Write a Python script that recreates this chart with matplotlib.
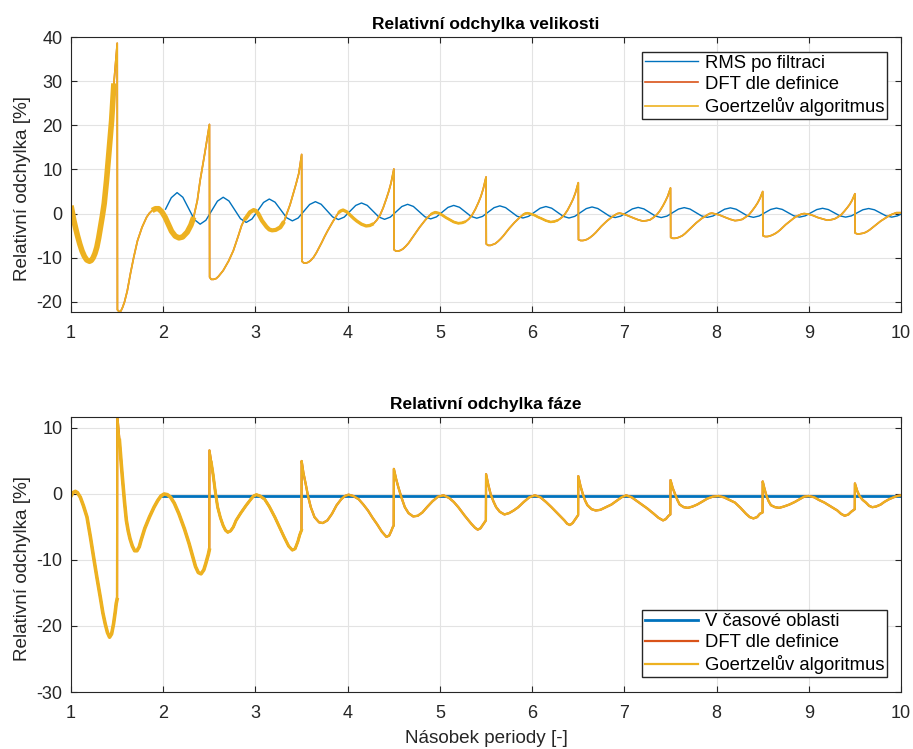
import numpy as np
import matplotlib
matplotlib.use('Agg')
import matplotlib.pyplot as plt

plt.rcParams['font.family'] = ['Liberation Sans', 'DejaVu Sans']
plt.rcParams['axes.unicode_minus'] = False

# barvy jako v MATLABu
c_blue = '#0072BD'
c_red = '#D95319'
c_yel = '#EDB120'

# ---- Relativni odchylka velikosti ----
# RMS po filtraci (vzorky po 1/16 periody od 2.025)
rms_x = np.arange(2.025, 10.03, 0.0625)
rms_y = [1.0, 3.6, 4.75,
         3.70, 1.18, -1.35, -2.4, -1.51, 0.65, 2.81, 3.7,
         2.86, 0.85, -1.16, -2.0, -1.22, 0.65, 2.52, 3.3,
         2.58, 0.83, -0.93, -1.65, -1.01, 0.53, 2.06, 2.7,
         2.11, 0.68, -0.76, -1.35, -0.80, 0.53, 1.85, 2.4,
         1.86, 0.55, -0.76, -1.3, -0.80, 0.40, 1.60, 2.1,
         1.62, 0.45, -0.72, -1.2, -0.75, 0.33, 1.40, 1.85,
         1.43, 0.40, -0.63, -1.05, -0.64, 0.35, 1.34, 1.75,
         1.35, 0.38, -0.60, -1.0, -0.62, 0.30, 1.22, 1.6,
         1.22, 0.30, -0.62, -1.0, -0.63, 0.25, 1.13, 1.5,
         1.15, 0.30, -0.55, -0.9, -0.56, 0.25, 1.06, 1.4,
         1.06, 0.25, -0.56, -0.9, -0.57, 0.23, 1.02, 1.35,
         1.03, 0.25, -0.53, -0.85, -0.54, 0.23, 0.99, 1.3,
         0.99, 0.23, -0.54, -0.85, -0.54, 0.20, 0.94, 1.25,
         0.95, 0.23, -0.50, -0.8, -0.51, 0.20, 0.91, 1.2,
         0.91, 0.20, -0.51, -0.8, -0.52, 0.18, 0.87, 1.15,
         0.86, 0.18, -0.51, -0.8, -0.52, 0.15]

# Goertzel / DFT - velikost, body (x, y) po periodach
vel_c0 = [(1.0, 1.8), (1.015, 0.2), (1.03, -1.5), (1.05, -3.3), (1.07, -5.0), (1.095, -6.9),
          (1.12, -8.5), (1.145, -9.7), (1.17, -10.5), (1.2, -10.8), (1.22, -10.6), (1.24, -10.0),
          (1.26, -9.0), (1.28, -7.6), (1.30, -5.5), (1.32, -3.0), (1.34, -0.5), (1.36, 2.3),
          (1.385, 7.5), (1.41, 13.6), (1.44, 21.0), (1.465, 29.5), (1.485, 34.5), (1.501, 38.6)]
vel_c1 = [(1.503, -21.8), (1.52, -22.2), (1.54, -22.1), (1.56, -21.2), (1.58, -20.0), (1.61, -17.5),
          (1.645, -13.5), (1.68, -9.9), (1.72, -6.2), (1.77, -3.1), (1.82, -0.8), (1.85, 0.1),
          (1.88, 0.7), (1.915, 1.1), (1.95, 1.1), (1.985, 0.4), (2.02, -0.8), (2.055, -2.4),
          (2.09, -4.0), (2.13, -5.1), (2.17, -5.5), (2.21, -5.3), (2.26, -4.2), (2.30, -2.6),
          (2.33, -0.8), (2.37, 3.0), (2.40, 7.5), (2.425, 10.5), (2.45, 13.6), (2.475, 16.8),
          (2.501, 20.2)]
vel_c2 = [(2.503, -14.4), (2.52, -14.9), (2.545, -14.9), (2.575, -14.7), (2.6, -14.2), (2.65, -12.9),
          (2.71, -10.7), (2.76, -8.4), (2.81, -5.3), (2.85, -2.7), (2.88, -1.4), (2.90, -0.9),
          (2.94, 0.3), (2.98, 0.8), (3.005, 0.6), (3.03, 0.0), (3.07, -1.6), (3.12, -3.0),
          (3.15, -3.6), (3.18, -3.8), (3.22, -3.7), (3.27, -3.1), (3.31, -1.8), (3.34, 0.0),
          (3.375, 2.0), (3.41, 4.5), (3.44, 6.7), (3.47, 9.1), (3.501, 13.4)]
# periody 3..8: poloha vzorku vuci celemu cislu periody
vel_off = [0.503, 0.525, 0.55, 0.575, 0.6, 0.63, 0.66, 0.69, 0.72, 0.75, 0.78, 0.81, 0.84, 0.87,
           0.9, 0.925, 0.95, 0.99, 1.03, 1.065, 1.1, 1.15, 1.2, 1.24, 1.28, 1.315, 1.35, 1.385,
           1.42, 1.445, 1.47, 1.501]
vel_per = [3, 4, 5, 6, 7, 8]
vel_yp = [
    [-10.8, -11.2, -11.2, -11.0, -10.6, -9.9, -8.9, -7.7, -6.5, -5.2, -4.0, -2.9, -1.8, -0.8, 0.2, 0.6,
     0.8, 0.4, -0.4, -1.1, -1.7, -2.4, -2.8, -2.7, -2.3, -1.5, -0.4, 1.3, 3.4, 5.0, 6.9, 10.1],
    [-8.2, -8.5, -8.5, -8.3, -8.0, -7.4, -6.7, -5.8, -4.9, -4.0, -3.1, -2.3, -1.5, -0.8, -0.2, 0.1,
     0.3, 0.1, -0.4, -0.9, -1.3, -1.9, -2.2, -2.1, -1.8, -1.2, -0.3, 1.0, 2.6, 3.9, 5.6, 8.3],
    [-6.9, -7.2, -7.2, -7.0, -6.8, -6.3, -5.7, -5.0, -4.2, -3.4, -2.7, -2.0, -1.4, -0.8, -0.3, 0.0,
     0.1, -0.1, -0.4, -0.8, -1.1, -1.6, -1.9, -1.8, -1.5, -1.0, -0.3, 0.8, 2.2, 3.3, 4.7, 7.0],
    [-5.9, -6.1, -6.1, -6.0, -5.8, -5.4, -4.9, -4.3, -3.6, -2.9, -2.3, -1.7, -1.2, -0.7, -0.3, 0.0,
     0.1, -0.1, -0.4, -0.7, -1.0, -1.4, -1.7, -1.6, -1.4, -0.9, -0.3, 0.6, 1.8, 2.8, 3.9, 5.8],
    [-5.4, -5.6, -5.6, -5.5, -5.3, -5.0, -4.5, -3.9, -3.3, -2.7, -2.1, -1.6, -1.1, -0.7, -0.3, 0.0,
     0.1, -0.1, -0.3, -0.6, -0.9, -1.3, -1.6, -1.5, -1.3, -0.8, -0.3, 0.6, 1.6, 2.4, 3.4, 5.0],
    [-5.0, -5.2, -5.2, -5.1, -4.9, -4.6, -4.2, -3.7, -3.1, -2.5, -2.0, -1.5, -1.0, -0.6, -0.3, -0.1,
     0.0, -0.1, -0.3, -0.6, -0.9, -1.2, -1.5, -1.4, -1.2, -0.8, -0.3, 0.5, 1.4, 2.1, 3.0, 4.5],
]
vel_c9 = [(9.503, -4.4), (9.525, -4.6), (9.55, -4.6), (9.575, -4.5), (9.6, -4.4), (9.63, -4.1),
          (9.66, -3.7), (9.69, -3.2), (9.72, -2.7), (9.75, -2.2), (9.78, -1.7), (9.81, -1.3),
          (9.84, -0.9), (9.87, -0.5), (9.9, -0.2), (9.925, 0.0), (9.95, 0.2), (10.0, 0.2)]

# ---- Relativni odchylka faze ----
cas_x = [2.0, 10.0]
cas_y = [-0.3, -0.3]

faze_c0 = [(1.0, -0.3), (1.02, 0.2), (1.047, 0.4), (1.07, 0.2), (1.101, -0.5), (1.135, -1.8),
           (1.173, -3.5), (1.21, -6.5), (1.245, -9.6), (1.28, -12.6), (1.317, -15.6), (1.345, -18.0),
           (1.371, -19.7), (1.395, -21.0), (1.418, -21.7), (1.44, -21.2), (1.461, -19.7),
           (1.48, -17.8), (1.49, -16.6), (1.499, -16.0), (1.501, 12.0)]
faze_c1 = [(1.525, 8.1), (1.545, 4.5), (1.56, 2.0), (1.58, -1.2), (1.60, -4.0), (1.62, -5.6),
           (1.64, -6.8), (1.665, -7.9), (1.69, -8.6), (1.715, -8.6), (1.74, -8.0), (1.76, -7.0),
           (1.80, -5.2), (1.85, -3.5), (1.90, -2.0), (1.94, -1.0), (1.975, -0.3), (2.01, 0.0),
           (2.045, -0.1), (2.08, -0.5), (2.12, -1.4), (2.17, -3.0), (2.23, -5.3), (2.28, -7.5),
           (2.32, -9.5), (2.35, -11.0), (2.38, -11.9), (2.41, -12.1), (2.44, -11.5), (2.46, -10.6),
           (2.49, -9.1), (2.499, -8.5), (2.501, 6.6)]
faze_c2 = [(2.52, 4.8), (2.54, 3.0), (2.565, 0.3), (2.59, -2.0), (2.62, -3.6), (2.65, -4.8),
           (2.675, -5.5), (2.70, -5.8), (2.73, -5.6), (2.76, -5.0), (2.79, -4.0), (2.84, -2.9),
           (2.90, -1.7), (2.95, -0.8), (2.98, -0.3), (3.01, -0.1), (3.05, -0.3), (3.10, -0.8),
           (3.15, -1.9), (3.21, -3.5), (3.26, -5.0), (3.31, -6.5), (3.36, -7.9), (3.40, -8.5),
           (3.43, -8.3), (3.46, -7.2), (3.48, -6.2), (3.499, -5.5), (3.501, 5.0)]
faze_c3 = [(3.52, 3.2), (3.545, 1.5), (3.57, -0.3), (3.60, -2.0), (3.64, -3.5), (3.69, -4.3),
           (3.73, -4.4), (3.78, -4.0), (3.83, -3.0), (3.88, -1.7), (3.93, -0.8), (3.97, -0.3),
           (4.01, -0.1), (4.06, -0.3), (4.12, -0.8), (4.17, -1.6), (4.22, -2.5), (4.27, -3.6),
           (4.32, -4.6), (4.37, -5.7), (4.42, -6.5), (4.45, -6.3), (4.47, -5.7), (4.49, -5.0),
           (4.499, -4.8), (4.501, 3.8)]
faze_c4 = [(4.525, 2.3), (4.55, 1.0), (4.585, -0.6), (4.62, -2.0), (4.66, -2.9), (4.71, -3.4),
           (4.76, -3.3), (4.81, -2.8), (4.86, -2.0), (4.92, -1.1), (4.98, -0.4), (5.04, -0.2),
           (5.10, -0.6), (5.15, -1.2), (5.20, -2.0), (5.27, -3.3), (5.34, -4.5), (5.38, -5.1),
           (5.41, -5.4), (5.44, -5.2), (5.47, -4.6), (5.49, -4.2), (5.499, -4.0), (5.501, 3.0)]
faze_c5 = [(5.525, 1.4), (5.55, 0.0), (5.58, -1.1), (5.61, -2.0), (5.65, -2.7), (5.70, -3.1),
           (5.75, -2.9), (5.80, -2.5), (5.85, -2.0), (5.91, -1.2), (5.97, -0.5), (6.03, -0.2),
           (6.09, -0.5), (6.15, -1.2), (6.21, -2.0), (6.28, -3.0), (6.35, -4.0), (6.38, -4.5),
           (6.41, -4.7), (6.44, -4.4), (6.47, -3.8), (6.49, -3.4), (6.499, -3.2), (6.501, 2.7)]
faze_c6 = [(6.525, 1.2), (6.55, 0.0), (6.575, -1.0), (6.60, -1.7), (6.645, -2.3), (6.69, -2.5),
           (6.74, -2.4), (6.80, -2.0), (6.86, -1.6), (6.92, -1.0), (6.97, -0.5), (7.02, -0.2),
           (7.08, -0.5), (7.13, -1.0), (7.18, -1.5), (7.25, -2.2), (7.32, -3.0), (7.37, -3.6),
           (7.42, -4.0), (7.45, -3.8), (7.48, -3.3), (7.499, -3.1), (7.501, 2.1)]
faze_c7 = [(7.525, 0.9), (7.55, 0.0), (7.575, -0.9), (7.60, -1.6), (7.645, -2.0), (7.69, -2.1),
           (7.74, -1.9), (7.79, -1.6), (7.84, -1.2), (7.90, -0.7), (7.96, -0.4), (8.02, -0.3),
           (8.08, -0.5), (8.14, -0.9), (8.20, -1.3), (8.26, -2.1), (8.32, -3.0), (8.36, -3.5),
           (8.40, -3.7), (8.44, -3.5), (8.47, -3.0), (8.499, -2.8), (8.501, 1.9)]
faze_c8 = [(8.52, 0.8), (8.54, -0.2), (8.565, -1.1), (8.59, -1.7), (8.635, -2.0), (8.68, -2.1),
           (8.73, -1.9), (8.79, -1.6), (8.85, -1.2), (8.90, -0.8), (8.95, -0.4), (9.00, -0.3),
           (9.06, -0.5), (9.11, -0.9), (9.17, -1.3), (9.24, -1.9), (9.31, -2.5), (9.35, -3.0),
           (9.39, -3.3), (9.43, -3.1), (9.46, -2.7), (9.48, -2.5), (9.499, -2.3), (9.501, 1.6)]
faze_c9 = [(9.525, 0.5), (9.55, -0.3), (9.585, -0.9), (9.62, -1.3), (9.655, -1.8), (9.69, -2.0),
           (9.73, -1.9), (9.78, -1.6), (9.82, -1.2), (9.87, -0.8), (9.92, -0.5), (9.96, -0.3),
           (10.0, -0.2)]

leg_vel = ['RMS po filtraci', 'DFT dle definice', 'Goertzelův algoritmus']
leg_faze = ['V časové oblasti', 'DFT dle definice', 'Goertzelův algoritmus']

# poskladani krivek
vel_pts = vel_c0 + vel_c1 + vel_c2
for n, yy in zip(vel_per, vel_yp):
    vel_pts += [(n + o, v) for o, v in zip(vel_off, yy)]
vel_pts += vel_c9
vel_x, vel_y = np.array(vel_pts).T

faze_pts = (faze_c0 + faze_c1 + faze_c2 + faze_c3 + faze_c4 + faze_c5 + faze_c6
            + faze_c7 + faze_c8 + faze_c9)
faze_x, faze_y = np.array(faze_pts).T


def style_ax(ax):
    ax.set_xlim(1, 10)
    ax.set_xticks(range(1, 11))
    ax.grid(True, color='#e3e3e3', lw=0.8)
    ax.set_axisbelow(True)
    ax.tick_params(direction='in', top=True, right=True, length=4, width=0.8,
                   colors='#262626', labelsize=13)
    ax.tick_params(axis='x', pad=9)
    ax.tick_params(axis='y', pad=6)
    for s in ax.spines.values():
        s.set_color('#262626')
        s.set_linewidth(0.8)


leg_kw = dict(borderaxespad=0, fancybox=False, edgecolor='#262626', framealpha=1,
              fontsize=13.3, handlelength=2.9, handletextpad=0.35, borderpad=0.15,
              labelspacing=0.22)

fig = plt.figure(figsize=(9.13, 7.49), dpi=100)
ax1 = fig.add_axes([0.0778, 0.5834, 0.909, 0.3672])
ax2 = fig.add_axes([0.0778, 0.0761, 0.909, 0.3672])

# horni graf
l1, = ax1.plot(rms_x, rms_y, color=c_blue, lw=1.0)
l2, = ax1.plot(vel_x, vel_y, color=c_red, lw=1.2)
l3, = ax1.plot(vel_x, vel_y, color=c_yel, lw=1.2)
# zasumene useky kresleny tlusteji
for a, b, w in [(1.0, 1.47, 4.0), (1.86, 2.36, 4.0), (2.88, 3.32, 3.0),
                (3.88, 4.3, 2.4), (4.88, 5.3, 2.0), (5.88, 6.3, 1.8)]:
    m = (vel_x >= a) & (vel_x <= b)
    ax1.plot(vel_x[m], vel_y[m], color=c_yel, lw=w, solid_capstyle='butt')
style_ax(ax1)
ax1.set_ylim(-22.3, 40)
ax1.set_yticks([-20, -10, 0, 10, 20, 30, 40])
ax1.set_title('Relativní odchylka velikosti', fontsize=12.5, fontweight='bold', pad=6)
ax1.set_ylabel('Relativní odchylka [%]', fontsize=13.6, color='#262626')
ax1.yaxis.set_label_coords(-0.048, 0.45)
ax1.legend([l1, l2, l3], leg_vel, loc='upper right', bbox_to_anchor=(0.983, 0.945), **leg_kw)

# dolni graf
k1, = ax2.plot(cas_x, cas_y, color=c_blue, lw=2.0)
k2, = ax2.plot(faze_x, faze_y, color=c_red, lw=1.6)
k3, = ax2.plot(faze_x, faze_y, color=c_yel, lw=1.6)
for a, b, w in [(1.0, 1.5, 2.6), (1.52, 2.5, 2.6), (2.52, 3.5, 2.2)]:
    m = (faze_x >= a) & (faze_x <= b)
    ax2.plot(faze_x[m], faze_y[m], color=c_yel, lw=w)
style_ax(ax2)
ax2.set_ylim(-30, 11.67)
ax2.set_yticks([-30, -20, -10, 0, 10])
ax2.set_title('Relativní odchylka fáze', fontsize=12.5, fontweight='bold', pad=6)
ax2.set_ylabel('Relativní odchylka [%]', fontsize=13.6, color='#262626')
ax2.yaxis.set_label_coords(-0.048, 0.45)
ax2.set_xlabel('Násobek periody [-]', fontsize=13.6, color='#262626', labelpad=6)
ax2.legend([k1, k2, k3], leg_faze, loc='lower right', bbox_to_anchor=(0.983, 0.0545), **leg_kw)

fig.savefig('out.png', dpi=100)
